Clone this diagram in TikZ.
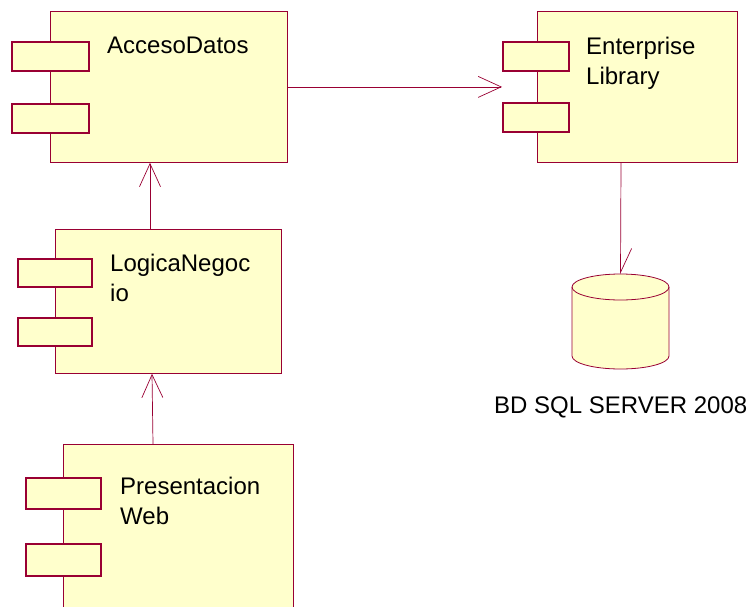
\documentclass[tikz,border=0pt]{standalone}
\usepackage{fontspec}
\setmainfont{Liberation Sans}
\usetikzlibrary{arrows.meta,positioning}
\definecolor{umlline}{HTML}{990033}
\definecolor{umlfill}{HTML}{FFFFCC}

\begin{document}
\begin{tikzpicture}[x=1pt,y=-1pt,font=\fontsize{24}{30}\selectfont,
 comp/.style={draw=umlline,fill=umlfill,line width=.8pt,anchor=north west,inner sep=0pt},
 tab/.style={draw=umlline,fill=umlfill,line width=1.5pt,anchor=north west,inner sep=0pt,minimum height=29pt},
 lbl/.style={anchor=north west,align=left,inner sep=0pt},
 dep/.style={draw=umlline,line width=.7pt,-{Straight Barb[length=23pt,width=21pt,line width=.7pt]}}]
 \useasboundingbox(0,0)rectangle(749,606);
 \clip(0,0)rectangle(749,606);
 % AccesoDatos
 \node[comp,minimum width=237pt,minimum height=151pt](acc)at(50,11){};
 \node[tab,minimum width=77pt](accA)at(11,41){};
 \node[tab,minimum width=77pt](accB)at(11,103){};
 \node[lbl](accT)at(107,37){AccesoDatos};
 % Enterprise Library
 \node[comp,minimum width=200pt,minimum height=151pt](ent)at(537,11){};
 \node[tab,minimum width=66pt](entA)at(502,41){};
 \node[tab,minimum width=66pt](entB)at(502,102){};
 \node[lbl](entT)at(586,37){Enterprise\\Library};
 % LogicaNegocio
 \node[comp,minimum width=226pt,minimum height=144pt](log)at(55,229){};
 \node[tab,minimum width=74pt,minimum height=28pt](logA)at(17,258){};
 \node[tab,minimum width=74pt,minimum height=28pt](logB)at(17,317){};
 \node[lbl](logT)at(110,254){LogicaNegoc\\io};
 % PresentacionWeb
 \node[comp,minimum width=230pt,minimum height=190pt](pre)at(63,444){};
 \node[tab,minimum width=75pt,minimum height=31pt](preA)at(25,477){};
 \node[tab,minimum width=75pt,minimum height=32pt](preB)at(25,543){};
 \node[lbl](preT)at(120,477){Presentacion\\Web};
 % BD
 \coordinate(bdtop)at(620.5,274);
 \filldraw[draw=umlline,fill=umlfill,line width=.8pt](572,287)--(572,356)
  arc[start angle=180,end angle=0,x radius=48.5,y radius=13]--(669,287)
  arc[start angle=0,end angle=-180,x radius=48.5,y radius=13]--cycle;
 \draw[umlline,line width=.8pt](572,287)arc[start angle=180,end angle=0,x radius=48.5,y radius=13];
 \node[anchor=base west,inner sep=0pt](bdT)at(494,413){BD SQL SERVER 2008};
 % dependencias
 \draw[dep](acc.east)--(acc.east-|entA.west);
 \draw[dep]([xshift=95pt]log.north west)--([xshift=95pt]log.north west|-acc.south);
 \draw[dep]([xshift=90pt]pre.north west)--([xshift=89pt]pre.north west|-log.south);
 \draw[draw=umlline,line width=.7pt,-{Straight Barb[harpoon,length=24pt,width=22pt,line width=.7pt]}]
  ([xshift=84pt]ent.south west)--(bdtop);
\end{tikzpicture}
\end{document}
